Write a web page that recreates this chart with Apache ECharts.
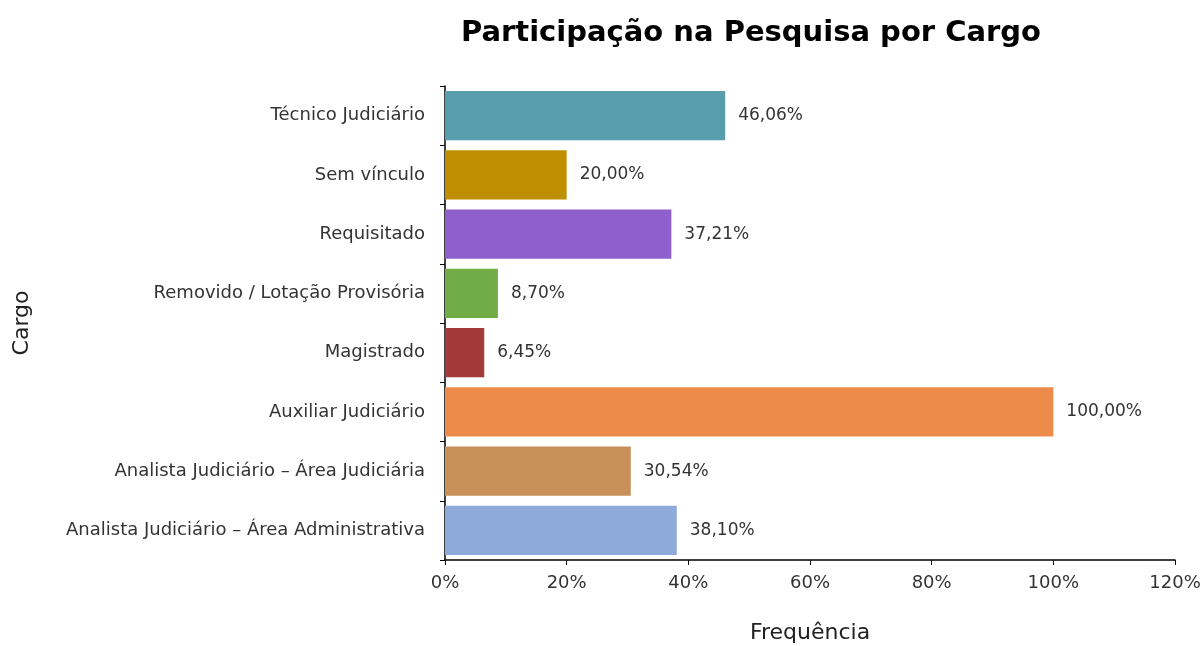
<!DOCTYPE html>
<html lang="pt">
<head>
    <meta charset="UTF-8">
    <title>Participação na Pesquisa por Cargo</title>
    <script src="https://cdn.jsdelivr.net/npm/echarts@6/dist/echarts.min.js"></script>
    <style>
        html, body { margin: 0; padding: 0; background: #fff; }
        #main { width: 1204px; height: 646px; }
    </style>
</head>
<body>
    <div id="main"></div>
    <script>
        // categories listed bottom-to-top (ECharts category axis order)
        var cargos = [
            'Analista Judiciário – Área Administrativa',
            'Analista Judiciário – Área Judiciária',
            'Auxiliar Judiciário',
            'Magistrado',
            'Removido / Lotação Provisória',
            'Requisitado',
            'Sem vínculo',
            'Técnico Judiciário'
        ];
        var frequencia = [38.10, 30.54, 100.00, 6.45, 8.70, 37.21, 20.00, 46.06];
        var cores = ['#8EAADB', '#C8915A', '#ED8B4A', '#A33A3A', '#70AD47', '#8E5FCD', '#BF8F00', '#579DAB'];
        var xTicks = [0, 20, 40, 60, 80, 100, 120];

        var fonte = 'DejaVu Sans';
        var chart = echarts.init(document.getElementById('main'));

        chart.setOption({
            animation: false,
            title: {
                text: 'Participação na Pesquisa por Cargo',
                left: 746,
                textAlign: 'center',
                top: 14,
                textStyle: {
                    fontFamily: fonte,
                    fontWeight: 'bold',
                    fontSize: 29,
                    color: '#000'
                }
            },
            grid: { left: 445, right: 29, top: 86, bottom: 86, outerBoundsMode: 'none' },
            xAxis: {
                type: 'value',
                min: xTicks[0],
                max: xTicks[xTicks.length - 1],
                interval: 20,
                name: 'Frequência',
                nameLocation: 'middle',
                nameGap: 62,
                nameTextStyle: { fontFamily: fonte, fontSize: 22, color: '#222' },
                axisLine: { show: true, lineStyle: { color: '#000', width: 1.5 } },
                axisTick: { show: true, length: 5, lineStyle: { color: '#000' } },
                splitLine: { show: false },
                axisLabel: {
                    formatter: '{value}%',
                    margin: 14,
                    fontFamily: fonte,
                    fontSize: 18,
                    color: '#333'
                }
            },
            yAxis: {
                type: 'category',
                data: cargos,
                name: 'Cargo',
                nameLocation: 'middle',
                nameGap: 412,
                nameRotate: 90,
                nameTextStyle: { fontFamily: fonte, fontSize: 22, color: '#222' },
                axisLine: { show: true, lineStyle: { color: '#000', width: 1.5 } },
                axisTick: { show: true, length: 5, lineStyle: { color: '#000' } },
                axisLabel: {
                    margin: 20,
                    fontFamily: fonte,
                    fontSize: 18,
                    color: '#333'
                }
            },
            series: [{
                type: 'bar',
                barCategoryGap: '17%',
                data: frequencia.map(function (v, i) {
                    return { value: v, itemStyle: { color: cores[i] } };
                }),
                label: {
                    show: true,
                    position: 'right',
                    distance: 13,
                    fontFamily: fonte,
                    fontSize: 17,
                    color: '#333',
                    formatter: function (p) {
                        return p.value.toFixed(2).replace('.', ',') + '%';
                    }
                }
            }]
        });
    </script>
</body>
</html>
